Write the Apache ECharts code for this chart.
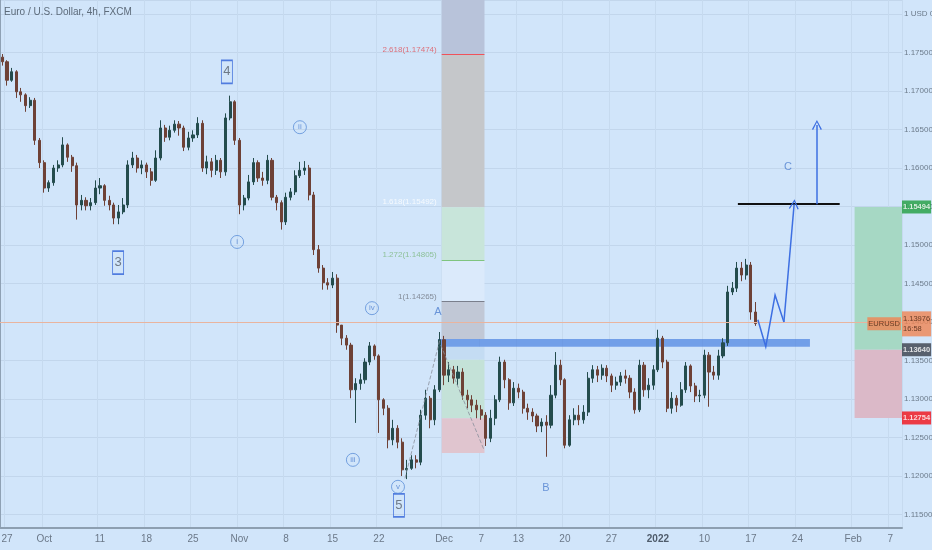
<!DOCTYPE html>
<html>
<head>
<meta charset="utf-8">
<script src="https://cdn.jsdelivr.net/npm/echarts@6/dist/echarts.min.js"></script>
<style>
html,body{margin:0;padding:0;background:#d1e5fa;}
#chart{width:932px;height:550px;}
</style>
</head>
<body>
<div id="chart"></div>
<script>
// EURUSD, half-day candles (open, close, low, high)
var openPx = [
1.1744,1.1738,1.1714,1.1725,1.1699,1.1695,1.1681,1.1688,1.1636,1.1607,
1.1574,1.1581,1.1600,1.1604,1.1630,1.1614,1.1603,1.1552,1.1558,1.1551,
1.1555,1.1574,1.1577,1.1558,1.1552,1.1535,1.1543,1.1552,1.1604,1.1613,
1.1600,1.1604,1.1595,1.1584,1.1613,1.1652,1.1640,1.1649,1.1657,1.1652,
1.1627,1.1639,1.1643,1.1658,1.1600,1.1608,1.1597,1.1610,1.1595,1.1665,
1.1686,1.1636,1.1552,1.1561,1.1582,1.1607,1.1587,1.1584,1.1610,1.1562,
1.1555,1.1530,1.1562,1.1569,1.1590,1.1597,1.1600,1.1565,1.1494,1.1470,
1.1451,1.1448,1.1457,1.1396,1.1379,1.1370,1.1312,1.1320,1.1325,1.1348,
1.1369,1.1356,1.1299,1.1288,1.1247,1.1262,1.1244,1.1208,1.1210,1.1221,
1.1218,1.1279,1.1301,1.1273,1.1312,1.1377,1.1331,1.1338,1.1327,1.1335,
1.1305,1.1299,1.1292,1.1286,1.1279,1.1249,1.1275,1.1299,1.1348,1.1325,
1.1295,1.1314,1.1309,1.1288,1.1283,1.1278,1.1265,1.1270,1.1266,1.1305,
1.1344,1.1325,1.1240,1.1273,1.1279,1.1273,1.1283,1.1327,1.1338,1.1331,
1.1340,1.1330,1.1318,1.1322,1.1330,1.1327,1.1309,1.1286,1.1344,1.1312,
1.1318,1.1338,1.1379,1.1348,1.1288,1.1301,1.1292,1.1312,1.1343,1.1317,
1.1304,1.1305,1.1357,1.1335,1.1331,1.1356,1.1373,1.1439,1.1444,1.1470,
1.1461,1.1474,1.1413
];
var closePx = [
1.1738,1.1714,1.1725,1.1699,1.1695,1.1681,1.1688,1.1636,1.1607,1.1574,
1.1581,1.1600,1.1604,1.1630,1.1614,1.1603,1.1552,1.1558,1.1551,1.1555,
1.1574,1.1577,1.1558,1.1552,1.1535,1.1543,1.1552,1.1604,1.1613,1.1600,
1.1604,1.1595,1.1584,1.1613,1.1652,1.1640,1.1649,1.1657,1.1652,1.1627,
1.1639,1.1643,1.1658,1.1600,1.1608,1.1597,1.1610,1.1595,1.1665,1.1686,
1.1636,1.1552,1.1561,1.1582,1.1607,1.1587,1.1584,1.1610,1.1562,1.1555,
1.1530,1.1562,1.1569,1.1590,1.1597,1.1600,1.1565,1.1494,1.1470,1.1451,
1.1448,1.1457,1.1396,1.1379,1.1370,1.1312,1.1320,1.1325,1.1348,1.1369,
1.1356,1.1299,1.1288,1.1247,1.1262,1.1244,1.1208,1.1210,1.1221,1.1218,
1.1279,1.1301,1.1273,1.1312,1.1377,1.1331,1.1338,1.1327,1.1335,1.1305,
1.1299,1.1292,1.1286,1.1279,1.1249,1.1275,1.1299,1.1348,1.1325,1.1295,
1.1314,1.1309,1.1288,1.1283,1.1278,1.1265,1.1270,1.1266,1.1305,1.1344,
1.1325,1.1240,1.1273,1.1279,1.1273,1.1283,1.1327,1.1338,1.1331,1.1340,
1.1330,1.1318,1.1322,1.1330,1.1327,1.1309,1.1286,1.1344,1.1312,1.1318,
1.1338,1.1379,1.1348,1.1288,1.1301,1.1292,1.1312,1.1343,1.1317,1.1304,
1.1305,1.1357,1.1335,1.1331,1.1356,1.1373,1.1439,1.1444,1.1470,1.1461,
1.1474,1.1413,1.1398
];
var lowPx = [
1.1733,1.1707,1.1712,1.1691,1.1686,1.1673,1.1678,1.1630,1.1600,1.1568,
1.1569,1.1577,1.1595,1.1601,1.1608,1.1595,1.1533,1.1545,1.1545,1.1545,
1.1552,1.1566,1.1551,1.1545,1.1527,1.1527,1.1540,1.1548,1.1600,1.1594,
1.1592,1.1587,1.1577,1.1582,1.1610,1.1634,1.1636,1.1646,1.1642,1.1622,
1.1623,1.1634,1.1639,1.1595,1.1592,1.1588,1.1591,1.1587,1.1590,1.1662,
1.1630,1.1540,1.1545,1.1558,1.1578,1.1582,1.1577,1.1579,1.1558,1.1545,
1.1520,1.1526,1.1558,1.1565,1.1587,1.1591,1.1558,1.1487,1.1464,1.1442,
1.1442,1.1444,1.1386,1.1370,1.1364,1.1301,1.1269,1.1312,1.1320,1.1344,
1.1351,1.1256,1.1279,1.1236,1.1240,1.1236,1.1200,1.1196,1.1208,1.1210,
1.1214,1.1273,1.1262,1.1266,1.1309,1.1318,1.1322,1.1320,1.1318,1.1299,
1.1288,1.1283,1.1275,1.1273,1.1239,1.1244,1.1266,1.1296,1.1314,1.1286,
1.1291,1.1301,1.1281,1.1273,1.1270,1.1257,1.1257,1.1225,1.1262,1.1301,
1.1318,1.1236,1.1238,1.1266,1.1266,1.1268,1.1278,1.1321,1.1322,1.1325,
1.1322,1.1309,1.1312,1.1317,1.1320,1.1301,1.1281,1.1283,1.1303,1.1301,
1.1312,1.1335,1.1340,1.1283,1.1281,1.1283,1.1290,1.1308,1.1309,1.1296,
1.1296,1.1301,1.1290,1.1325,1.1325,1.1353,1.1369,1.1435,1.1439,1.1453,
1.1455,1.1403,1.1395
];
var highPx = [
1.1748,1.1740,1.1730,1.1727,1.1704,1.1697,1.1692,1.1691,1.1639,1.1610,
1.1584,1.1604,1.1610,1.1640,1.1632,1.1617,1.1607,1.1565,1.1562,1.1561,
1.1584,1.1587,1.1579,1.1564,1.1555,1.1552,1.1561,1.1610,1.1621,1.1617,
1.1610,1.1607,1.1600,1.1623,1.1662,1.1656,1.1655,1.1662,1.1661,1.1655,
1.1647,1.1649,1.1666,1.1662,1.1616,1.1613,1.1617,1.1613,1.1671,1.1694,
1.1688,1.1639,1.1565,1.1591,1.1613,1.1610,1.1595,1.1617,1.1613,1.1565,
1.1558,1.1568,1.1574,1.1597,1.1608,1.1609,1.1604,1.1569,1.1500,1.1474,
1.1457,1.1465,1.1462,1.1390,1.1383,1.1373,1.1327,1.1333,1.1353,1.1374,
1.1371,1.1358,1.1301,1.1292,1.1273,1.1266,1.1249,1.1221,1.1227,1.1227,
1.1286,1.1312,1.1304,1.1318,1.1387,1.1382,1.1348,1.1343,1.1343,1.1340,
1.1312,1.1305,1.1299,1.1292,1.1283,1.1286,1.1305,1.1355,1.1351,1.1327,
1.1322,1.1320,1.1312,1.1294,1.1288,1.1281,1.1275,1.1279,1.1318,1.1361,
1.1351,1.1327,1.1279,1.1288,1.1292,1.1292,1.1335,1.1344,1.1343,1.1345,
1.1344,1.1333,1.1329,1.1335,1.1338,1.1331,1.1314,1.1351,1.1348,1.1327,
1.1344,1.1390,1.1382,1.1351,1.1309,1.1305,1.1322,1.1348,1.1345,1.1321,
1.1312,1.1364,1.1361,1.1343,1.1364,1.1379,1.1447,1.1452,1.1478,1.1478,
1.1482,1.1478,1.1426
];
var lastPrice = 1.13976;

// date axis ticks
var tickDays = ['2021-09-27','2021-10-01','2021-10-11','2021-10-18','2021-10-25','2021-11-01','2021-11-08',
  '2021-11-15','2021-11-22','2021-12-01','2021-12-07','2021-12-13','2021-12-20','2021-12-27','2022-01-03',
  '2022-01-10','2022-01-17','2022-01-24','2022-02-01','2022-02-07'];
var tickLabels = ['27','Oct','11','18','25','Nov','8','15','22','Dec','7','13','20','27','2022','10','17','24','Feb','7'];

// drawing tools
var fibLevels = ['2.618','1.618','1.272','1'];
var fibPrices = [1.17474, 1.15492, 1.14805, 1.14265];
var tradeLevels = [1.15494, 1.13640, 1.12754];   // target, entry, stop
var zoneLow = 1.1368, zoneHigh = 1.1378;
var resistance = 1.1553;

// two slots per trading day, starting at the Sep 24 afternoon
var categories = [];
var day = new Date(Date.UTC(2021, 8, 24));
while (categories.length < 196) {
  var wd = day.getUTCDay();
  if (wd > 0 && wd < 6) {
    var s = day.toISOString().slice(0, 10);
    categories.push(s + ' 1', s + ' 2');
  }
  day.setUTCDate(day.getUTCDate() + 1);
}
categories = categories.slice(1, 195);

var candles = openPx.map(function (o, i) { return [o, closePx[i], lowPx[i], highPx[i]]; });

function isTick(val) {
  return val.slice(-1) === '1' && tickDays.indexOf(val.slice(0, 10)) >= 0;
}

var narrow = "'Liberation Sans Narrow','Liberation Sans',sans-serif";
var chart = echarts.init(document.getElementById('chart'));
var nSlots = categories.length;
var chevron = 'path://M0,10 L5,0 L10,10 L8.8,10.6 L5,2.6 L1.2,10.6 Z';

var option = {
  animation: false,
  backgroundColor: '#d1e5fa',
  title: {
    text: 'Euro / U.S. Dollar, 4h, FXCM', left: 4, top: 7, padding: 0,
    textStyle: { fontSize: 10, fontWeight: 'normal', color: '#5d6b7a', fontFamily: narrow }
  },
  grid: { left: 0, right: 30, top: 0, bottom: 22, containLabel: false, outerBoundsMode: 'none' },
  xAxis: [{
    type: 'category', data: categories, boundaryGap: true,
    axisLine: { lineStyle: { color: '#8d9fb1', width: 2 } },
    axisTick: { show: false },
    axisLabel: {
      interval: function (i, v) { return isTick(v); },
      formatter: function (v) {
        var t = tickLabels[tickDays.indexOf(v.slice(0, 10))];
        return t === '2022' ? '{b|2022}' : t;
      },
      color: '#6b7888', fontSize: 10, fontFamily: narrow, margin: 6,
      rich: { b: { fontSize: 10, fontWeight: 'bold', color: '#4f5c6b', fontFamily: narrow } }
    },
    splitLine: { show: true, interval: function (i, v) { return isTick(v); }, lineStyle: { color: '#c6daef' } }
  }, {
    type: 'value', min: 0, max: nSlots, show: false
  }],
  yAxis: {
    type: 'value', position: 'right', min: 1.11325, max: 1.18182, scale: true,
    splitNumber: 13, minInterval: 0.005, maxInterval: 0.005,
    axisLine: { show: true, lineStyle: { color: '#8fa1b4' } },
    axisTick: { show: false },
    axisLabel: {
      color: '#6c7b8b', fontSize: 8, fontFamily: narrow, margin: 2,
      formatter: function (v) {
        if (Math.abs(v * 200 - Math.round(v * 200)) > 1e-6) return '';
        if (Math.abs(v - 1.18) < 1e-9) return '1 USD 0';
        return v.toFixed(5);
      }
    },
    splitLine: { lineStyle: { color: '#c2d6ec' } }
  },
  series: [
    {
      // fibonacci extension and position tools (backgrounds)
      type: 'line', xAxisIndex: 1, data: [], z: 1, silent: true,
      markArea: {
        silent: true,
        data: [
          [{ coord: [95, 1.1819], itemStyle: { color: '#b8c3da' } }, { coord: [104.2, fibPrices[0]] }],
          [{ coord: [95, fibPrices[0]], itemStyle: { color: '#c5c7ca' } }, { coord: [104.2, fibPrices[1]] }],
          [{ coord: [95, fibPrices[1]], itemStyle: { color: '#c8e5da' } }, { coord: [104.2, fibPrices[2]] }],
          [{ coord: [95, fibPrices[2]], itemStyle: { color: '#dbeafb' } }, { coord: [104.2, fibPrices[3]] }],
          [{ coord: [95, fibPrices[3]], itemStyle: { color: '#c1c8d6' } }, { coord: [104.2, zoneHigh] }],
          [{ coord: [95, zoneLow], itemStyle: { color: '#c4dcf3' } }, { coord: [104.2, 1.1351] }],
          [{ coord: [95, 1.1351], itemStyle: { color: '#c4e2d8' } }, { coord: [104.2, 1.1275] }],
          [{ coord: [95, 1.1275], itemStyle: { color: '#e0c5cf' } }, { coord: [104.2, 1.1230] }],
          [{ coord: [183.8, tradeLevels[0]], itemStyle: { color: '#a6d8c4' } }, { coord: [nSlots, tradeLevels[1]] }],
          [{ coord: [183.8, tradeLevels[1]], itemStyle: { color: '#dbb9c8' } }, { coord: [nSlots, tradeLevels[2]] }]
        ]
      },
      markLine: {
        silent: true, symbol: ['none', 'none'], label: { show: false },
        data: [
          [{ coord: [95, fibPrices[0]], lineStyle: { color: '#f0525a', width: 1, type: 'solid' } }, { coord: [104.2, fibPrices[0]] }],
          [{ coord: [95, fibPrices[2]], lineStyle: { color: '#7fc47f', width: 1, type: 'solid' } }, { coord: [104.2, fibPrices[2]] }],
          [{ coord: [95, fibPrices[3]], lineStyle: { color: '#7a7f8c', width: 1, type: 'solid' } }, { coord: [104.2, fibPrices[3]] }],
          { yAxis: lastPrice, lineStyle: { color: '#e9b49e', width: 1, type: 'solid' } }
        ]
      }
    },
    {
      type: 'candlestick', name: 'EURUSD', data: candles, z: 3,
      barWidth: 2.6,
      itemStyle: {
        color: '#244c4d', color0: '#6e4136',
        borderColor: '#244c4d', borderColor0: '#6e4136', borderWidth: 1
      }
    },
    {
      // support zone and resistance line
      type: 'line', xAxisIndex: 1, data: [], z: 5, silent: true,
      markArea: {
        silent: true,
        data: [[{ coord: [94.2, zoneHigh], itemStyle: { color: 'rgba(70,126,222,0.68)' } }, { coord: [174.2, zoneLow] }]]
      },
      markLine: {
        silent: true, symbol: ['none', 'none'], label: { show: false },
        data: [[{ coord: [158.7, resistance], lineStyle: { color: '#111111', width: 2, type: 'solid' } }, { coord: [180.6, resistance] }]]
      }
    },
    {
      type: 'lines', coordinateSystem: 'cartesian2d', xAxisIndex: 1, yAxisIndex: 0, z: 6,
      polyline: true, silent: true,
      lineStyle: { color: '#3d6fe2', width: 1.5, opacity: 1 },
      data: [{ coords: [[163.0, 1.1403], [164.7, 1.1368], [166.7, 1.1435], [168.6, 1.1400]] }]
    },
    {
      type: 'lines', coordinateSystem: 'cartesian2d', xAxisIndex: 1, yAxisIndex: 0, z: 6,
      silent: true, symbol: ['none', chevron], symbolSize: 10,
      lineStyle: { color: '#3d6fe2', width: 1.5, opacity: 1 },
      data: [
        { coords: [[168.6, 1.1400], [170.8, 1.1553]] },
        { coords: [[175.7, 1.1553], [175.7, 1.1656]] }
      ]
    },
    {
      type: 'lines', coordinateSystem: 'cartesian2d', xAxisIndex: 1, yAxisIndex: 0, z: 4,
      silent: true,
      lineStyle: { color: '#8a909c', width: 1, type: 'dashed', opacity: 0.8 },
      data: [
        { coords: [[87.1, 1.1197], [94.6, 1.1377]] },
        { coords: [[94.8, 1.1370], [104.1, 1.1234]] }
      ]
    },
    {
      // fib labels
      type: 'scatter', xAxisIndex: 1, symbolSize: 0, z: 7, silent: true, clip: false,
      label: { show: true, position: 'left', offset: [0, -5], fontSize: 8, fontFamily: narrow, formatter: '{b}' },
      data: fibLevels.map(function (l, i) {
        var cols = ['#e0525a', '#ffffff', '#7cb87f', '#6e7480'];
        return { name: l + '(' + fibPrices[i].toFixed(5) + ')', value: [95, fibPrices[i]], label: { color: cols[i] } };
      })
    },
    {
      // boxed wave numbers
      type: 'scatter', xAxisIndex: 1, symbol: 'rect', symbolSize: [11, 23], z: 7, silent: true, clip: false,
      itemStyle: { color: 'rgba(0,0,0,0)', borderColor: '#2f62d8', borderWidth: 1.2 },
      label: { show: true, position: 'inside', formatter: '{b}', color: '#555e6a', fontSize: 13, fontFamily: narrow },
      data: [
        { name: '4', value: [48.8, 1.1725] },
        { name: '3', value: [25.4, 1.1477] },
        { name: '5', value: [85.8, 1.1162] }
      ]
    },
    {
      // circled sub-waves
      type: 'scatter', xAxisIndex: 1, symbol: 'circle', symbolSize: 13, z: 7, silent: true, clip: false,
      itemStyle: { color: 'rgba(0,0,0,0)', borderColor: '#5b8fd8', borderWidth: 1 },
      label: { show: true, position: 'inside', formatter: '{b}', color: '#4f7fcf', fontSize: 8, fontFamily: narrow },
      data: [
        { name: 'i', value: [51.0, 1.1504] },
        { name: 'ii', value: [64.5, 1.1653] },
        { name: 'iii', value: [75.9, 1.1221] },
        { name: 'iv', value: [80.0, 1.1418] },
        { name: 'v', value: [85.6, 1.1186] }
      ]
    },
    {
      // ABC letters
      type: 'scatter', xAxisIndex: 1, symbolSize: 0, z: 7, silent: true, clip: false,
      label: { show: true, position: 'inside', formatter: '{b}', color: '#4f7fcf', fontSize: 11, fontFamily: narrow },
      data: [
        { name: 'A', value: [94.2, 1.1413] },
        { name: 'B', value: [117.4, 1.1185] },
        { name: 'C', value: [169.5, 1.1601] }
      ]
    },
    {
      // price scale tags
      type: 'scatter', xAxisIndex: 1, symbolSize: 0, z: 9, silent: true, clip: false,
      label: { show: true, position: 'right', distance: 0, formatter: '{b}', fontSize: 7.5, fontFamily: narrow,
        padding: [3, 1, 2, 1], color: '#ffffff' },
      data: [
        { name: tradeLevels[0].toFixed(5), value: [nSlots, tradeLevels[0]], label: { backgroundColor: '#1f9d3f', fontWeight: 'bold' } },
        { name: tradeLevels[1].toFixed(5), value: [nSlots, tradeLevels[1]], label: { backgroundColor: '#3a3f4a', fontWeight: 'bold' } },
        { name: tradeLevels[2].toFixed(5), value: [nSlots, tradeLevels[2]], label: { backgroundColor: '#f30f16', fontWeight: 'bold' } },
        { name: lastPrice.toFixed(5) + '\n16:58', value: [nSlots, lastPrice], label: { backgroundColor: '#f08552', color: '#4a2412', lineHeight: 10 } },
        { name: 'EURUSD', value: [nSlots, lastPrice], label: { position: 'left', distance: 1, backgroundColor: '#f08552', color: '#4a2412' } }
      ]
    }
  ]
};
chart.setOption(option);
</script>
</body>
</html>
